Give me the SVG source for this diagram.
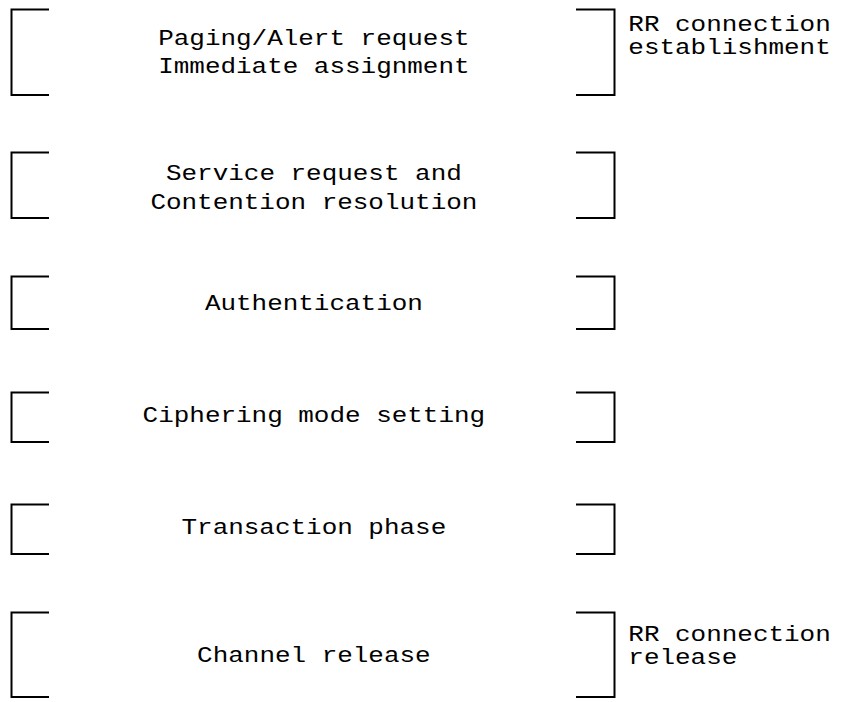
<svg xmlns="http://www.w3.org/2000/svg" width="842" height="702" viewBox="0 0 842 702">
<style>
.b{fill:none;stroke:#000;stroke-width:2}
text{font-family:"Courier New","Liberation Mono",monospace;font-size:22px;fill:#000}
.c{text-anchor:middle}
</style>
<rect width="842" height="702" fill="#fff"/>
<g id="n1">
<path class="b" d="M49,9.5H11.5V95H49M576,9.5H614.5V95H576"/>
<g transform="scale(1.18 1)">
<text class="c" x="266" y="45">Paging/Alert request</text>
<text class="c" x="266" y="73">Immediate assignment</text>
<text x="532.5" y="31">RR connection</text>
<text x="532.5" y="54">establishment</text>
</g>
</g>
<g id="n2">
<path class="b" d="M49,152.5H11.5V218H49M576,152.5H614.5V218H576"/>
<g transform="scale(1.18 1)">
<text class="c" x="266" y="180">Service request and</text>
<text class="c" x="266" y="209">Contention resolution</text>
</g>
</g>
<g id="n3">
<path class="b" d="M49,276.5H11.5V329H49M576,276.5H614.5V329H576"/>
<g transform="scale(1.18 1)">
<text class="c" x="266" y="310">Authentication</text>
</g>
</g>
<g id="n4">
<path class="b" d="M49,392.5H11.5V442H49M576,392.5H614.5V442H576"/>
<g transform="scale(1.18 1)">
<text class="c" x="266" y="422">Ciphering mode setting</text>
</g>
</g>
<g id="n5">
<path class="b" d="M49,504.5H11.5V554H49M576,504.5H614.5V554H576"/>
<g transform="scale(1.18 1)">
<text class="c" x="266" y="534">Transaction phase</text>
</g>
</g>
<g id="n6">
<path class="b" d="M49,612.5H11.5V697H49M576,612.5H614.5V697H576"/>
<g transform="scale(1.18 1)">
<text class="c" x="266" y="662">Channel release</text>
<text x="532.5" y="641">RR connection</text>
<text x="532.5" y="664">release</text>
</g>
</g>
<g id="connectors"/>
</svg>
